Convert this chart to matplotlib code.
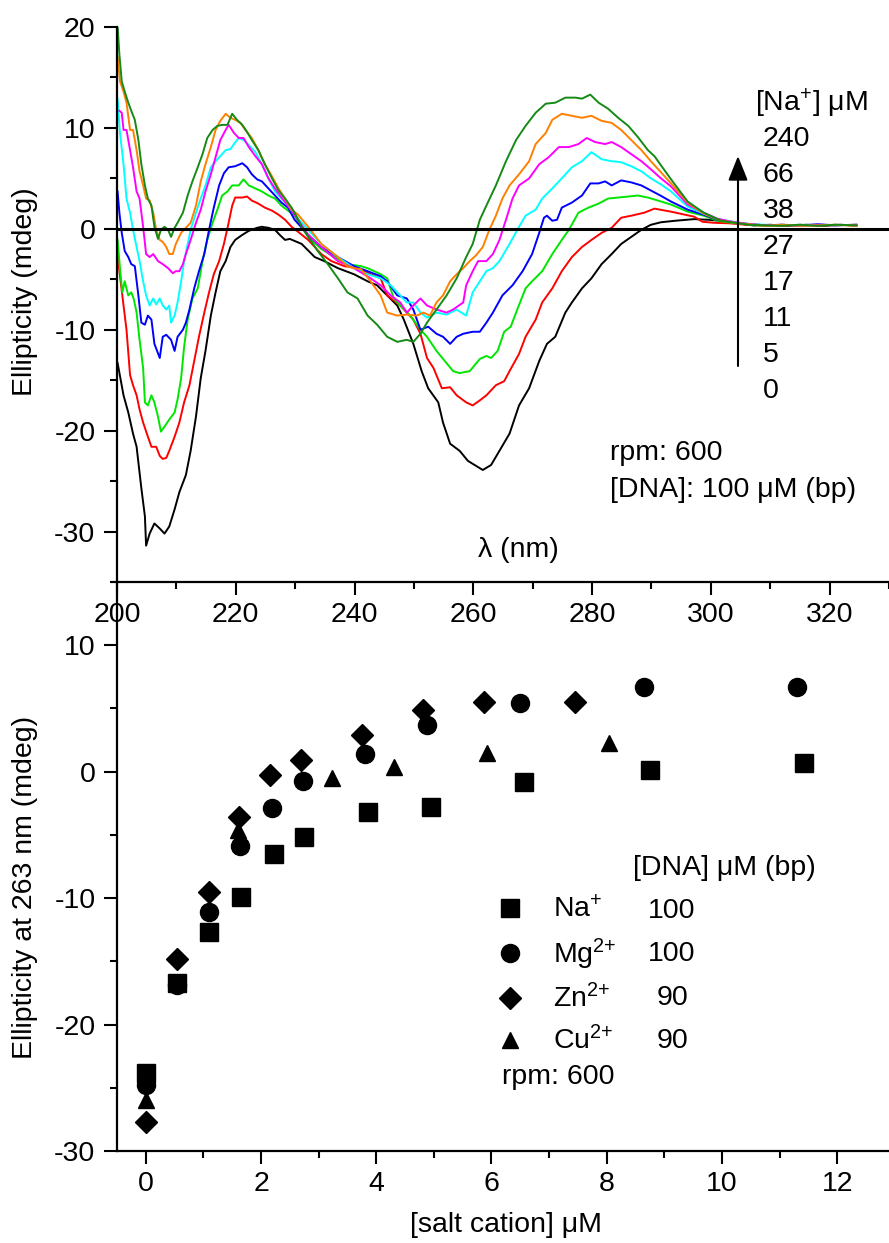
import matplotlib
matplotlib.use("Agg")
import matplotlib.pyplot as plt
from matplotlib.patches import FancyArrowPatch
import numpy as np

FS = 20.5
plt.rcParams['font.family'] = ['Liberation Sans', 'DejaVu Sans']
plt.rcParams['font.size'] = FS
plt.rcParams['axes.unicode_minus'] = False
plt.rcParams['mathtext.fontset'] = 'custom'
plt.rcParams['mathtext.rm'] = 'Liberation Sans'
plt.rcParams['mathtext.it'] = 'Liberation Sans:italic'
plt.rcParams['mathtext.bf'] = 'Liberation Sans:bold'

#%% CD spectra, (wavelength nm, ellipticity mdeg)
na_0 = [(200.1, -13.3), (201.1, -16.5), (201.9, -18.2), (202.7, -20.3), (203.3, -21.6), (204.1, -25.7),
        (204.7, -28.5), (204.9, -31.4), (205.5, -30.2), (206.3, -29.2), (207.2, -29.7), (208.0, -30.2),
        (208.8, -29.5), (209.7, -27.8), (210.5, -26.1), (211.6, -24.4), (212.4, -22.0), (213.3, -18.6),
        (214.1, -14.8), (214.9, -12.1), (215.8, -8.6), (216.6, -6.3), (217.4, -4.2), (218.3, -3.2),
        (219.1, -1.8), (219.9, -1.1), (221.1, -0.6), (222.2, -0.2), (223.6, 0.1), (224.4, 0.2),
        (225.5, 0.1), (226.6, -0.1), (227.4, -0.6), (228.3, -1.1), (229.1, -1.0), (231.1, -1.5),
        (233.3, -2.8), (234.9, -3.2), (237.2, -3.9), (239.9, -4.5), (242.2, -5.2), (243.8, -5.6),
        (245.5, -6.6), (247.2, -7.6), (248.3, -9.0), (249.9, -11.4), (251.3, -14.1), (252.4, -15.8),
        (254.1, -17.2), (254.9, -19.2), (256.1, -21.3), (257.7, -22.0), (259.1, -23.0), (261.6, -23.9),
        (263.0, -23.4), (264.4, -22.0), (266.1, -20.3), (267.7, -17.5), (269.4, -15.8), (271.1, -13.1),
        (272.4, -11.4), (273.8, -10.7), (275.5, -8.3), (276.6, -7.3), (278.3, -5.9), (279.9, -4.9),
        (281.6, -3.5), (283.3, -2.5), (284.9, -1.5), (286.6, -0.8), (288.3, -0.1), (289.9, 0.4),
        (291.6, 0.65), (294.0, 0.8), (297.2, 0.96), (299.5, 0.9), (301.5, 0.8), (303.3, 0.66),
        (305.0, 0.5), (307.2, 0.33), (310.0, 0.4), (313.0, 0.3), (316.0, 0.4), (319.0, 0.3),
        (322.0, 0.4), (324.5, 0.3)]
na_5 = [(200.1, -1.5), (200.2, -3.2), (201.1, -7.6), (201.6, -10.0), (202.2, -14.5), (202.7, -15.5),
        (203.3, -16.5), (203.8, -17.9), (204.4, -19.2), (205.2, -20.6), (205.8, -21.6), (206.6, -21.6),
        (207.2, -22.5), (207.7, -22.8), (208.3, -22.7), (208.8, -22.0), (209.7, -20.6), (210.5, -19.2),
        (211.3, -17.2), (212.2, -15.5), (213.0, -13.1), (213.8, -10.7), (214.7, -8.3), (215.5, -6.3),
        (216.3, -4.5), (217.2, -3.2), (218.0, -1.5), (218.8, 0.6), (219.4, 2.3), (219.9, 3.1),
        (221.1, 3.1), (221.9, 3.2), (222.7, 2.8), (223.8, 2.5), (224.9, 2.1), (226.1, 1.8),
        (227.2, 1.4), (228.3, 0.9), (229.4, 0.2), (230.5, -0.3), (232.2, -1.1), (234.4, -2.5),
        (236.1, -3.2), (238.3, -3.7), (240.5, -3.9), (242.7, -4.5), (244.4, -4.9), (245.5, -6.6),
        (247.7, -7.6), (249.9, -9.0), (251.1, -10.4), (252.2, -12.8), (253.3, -13.8), (254.7, -15.8),
        (256.1, -15.7), (257.2, -16.5), (258.8, -17.2), (259.9, -17.5), (261.1, -17.0), (262.2, -16.5),
        (263.8, -15.5), (265.2, -15.1), (266.1, -14.1), (267.7, -12.4), (268.8, -10.7), (270.5, -9.0),
        (271.6, -7.3), (273.3, -5.9), (274.9, -4.2), (276.6, -2.8), (278.3, -1.8), (279.9, -1.1),
        (281.6, -0.4), (283.3, 0.1), (284.9, 1.1), (286.6, 1.3), (288.8, 1.6), (290.5, 2.0),
        (293.3, 1.7), (297.2, 1.2), (298.6, 0.7), (300.5, 0.6), (303.0, 0.55), (306.0, 0.4),
        (309.0, 0.35), (312.0, 0.3), (315.0, 0.4), (318.0, 0.3), (321.0, 0.4), (324.5, 0.35)]
na_11 = [(200.1, -1.1), (200.5, -3.9), (200.9, -6.3), (201.3, -5.2), (201.9, -6.6), (202.4, -6.3),
         (202.8, -6.9), (203.3, -8.3), (203.8, -11.0), (204.4, -13.8), (204.7, -17.2), (205.2, -17.5),
         (205.8, -16.5), (206.3, -17.2), (206.9, -18.6), (207.4, -20.1), (208.0, -19.6), (208.8, -18.9),
         (209.7, -18.2), (210.2, -16.9), (210.8, -14.8), (211.3, -11.7), (211.9, -9.0), (212.7, -6.9),
         (213.6, -5.9), (214.4, -3.2), (215.2, -1.1), (216.1, 0.6), (216.9, 1.9), (217.7, 3.3),
         (218.6, 3.7), (219.4, 4.3), (220.5, 4.3), (221.3, 4.9), (222.2, 4.3), (223.3, 4.0),
         (224.4, 3.7), (225.5, 3.3), (226.6, 3.0), (227.7, 2.3), (228.8, 1.8), (229.9, 1.3),
         (231.1, 0.2), (232.2, -0.8), (234.4, -2.0), (236.6, -2.8), (238.8, -3.5), (241.1, -3.7),
         (242.2, -3.9), (244.4, -4.5), (245.5, -4.9), (246.6, -6.9), (247.7, -7.6), (249.4, -8.6),
         (251.1, -10.0), (252.2, -10.7), (253.8, -12.1), (255.2, -13.1), (256.6, -14.1), (257.7, -14.3),
         (259.4, -14.1), (261.1, -12.9), (262.2, -12.6), (263.0, -12.8), (264.1, -12.1), (265.2, -10.2),
         (266.3, -9.7), (267.4, -8.0), (268.8, -5.9), (269.9, -5.2), (271.6, -4.2), (273.3, -2.5),
         (274.9, -1.1), (276.1, -0.1), (277.7, 1.6), (279.4, 2.1), (281.1, 2.5), (282.7, 3.0),
         (284.4, 3.1), (286.1, 3.2), (287.7, 3.3), (289.4, 3.1), (291.1, 2.8), (293.3, 2.4),
         (296.1, 1.7), (298.8, 1.3), (301.1, 0.8), (303.5, 0.6), (306.0, 0.45), (309.0, 0.3),
         (312.0, 0.4), (315.0, 0.3), (318.0, 0.4), (321.0, 0.35), (324.5, 0.4)]
na_17 = [(200.1, 3.7), (200.4, 1.6), (200.8, -0.4), (201.3, -2.2), (201.9, -2.8), (202.4, -3.5),
         (203.0, -3.7), (203.6, -6.6), (204.1, -9.3), (204.7, -9.5), (205.2, -8.6), (205.8, -9.0),
         (206.3, -11.4), (207.2, -12.8), (207.7, -10.7), (208.3, -10.5), (209.1, -11.0), (209.7, -12.1),
         (210.2, -10.7), (211.1, -10.0), (211.6, -9.3), (212.2, -8.0), (213.0, -5.9), (213.8, -4.2),
         (214.7, -2.5), (215.5, -0.1), (216.3, 2.1), (217.2, 4.3), (218.0, 5.5), (218.8, 6.1),
         (219.9, 6.2), (221.1, 6.5), (221.9, 6.1), (222.7, 5.4), (223.6, 4.9), (224.4, 4.7),
         (225.5, 4.0), (226.6, 3.3), (227.7, 2.6), (228.8, 2.1), (229.9, 0.9), (232.2, -0.6),
         (234.4, -1.8), (237.2, -2.8), (239.9, -3.7), (242.2, -4.2), (244.4, -4.7), (245.5, -5.2),
         (247.2, -6.6), (248.8, -6.9), (249.9, -8.0), (251.1, -10.0), (252.4, -9.7), (253.8, -10.4),
         (254.9, -10.7), (256.1, -11.4), (257.2, -10.7), (258.3, -10.4), (259.9, -10.2), (261.1, -10.2),
         (262.2, -9.3), (263.3, -8.3), (264.9, -6.6), (266.6, -5.6), (268.3, -4.2), (269.9, -2.5),
         (271.1, -0.4), (271.9, 1.1), (272.4, 1.3), (273.3, 0.8), (274.1, 0.9), (274.9, 2.1),
         (276.6, 2.6), (278.3, 3.3), (279.7, 4.5), (281.1, 4.5), (282.2, 4.7), (283.3, 4.3),
         (284.9, 4.8), (286.6, 4.6), (288.3, 4.3), (289.9, 3.8), (291.5, 3.3), (293.3, 2.7),
         (296.1, 1.9), (298.8, 1.4), (301.1, 0.9), (303.5, 0.7), (306.0, 0.5), (309.0, 0.35),
         (312.0, 0.4), (315.0, 0.35), (318.0, 0.45), (321.0, 0.35), (324.5, 0.4)]
na_27 = [(200.1, 12.9), (200.5, 9.5), (201.1, 6.4), (201.6, 3.0), (202.2, 1.6), (202.7, -0.1),
         (203.3, -1.8), (203.8, -3.2), (204.4, -5.2), (204.9, -6.6), (205.5, -7.6), (206.1, -6.9),
         (206.6, -7.5), (207.2, -6.9), (207.7, -7.6), (208.3, -8.0), (208.8, -7.6), (209.1, -9.3),
         (209.7, -8.6), (210.2, -7.3), (210.8, -5.2), (211.3, -3.2), (211.9, -1.5), (212.4, -0.1),
         (213.3, 1.6), (214.1, 3.0), (214.9, 4.3), (215.8, 6.1), (216.6, 6.7), (217.4, 7.2),
         (218.3, 7.8), (219.1, 7.9), (219.7, 8.4), (220.5, 9.0), (221.3, 8.8), (222.2, 8.3),
         (223.3, 7.6), (224.4, 6.4), (225.5, 5.0), (226.6, 3.7), (227.7, 3.0), (228.8, 2.3),
         (229.9, 1.4), (232.2, -0.1), (234.4, -1.5), (237.2, -2.8), (239.9, -3.9), (242.2, -4.5),
         (244.4, -4.9), (246.1, -5.6), (247.2, -6.3), (248.8, -7.3), (249.9, -7.3), (251.1, -8.3),
         (252.2, -8.8), (253.8, -8.3), (255.5, -8.5), (257.2, -8.0), (258.8, -8.6), (259.9, -6.3),
         (261.1, -5.2), (262.2, -4.2), (263.3, -3.9), (264.4, -3.2), (266.1, -1.5), (267.7, 0.2),
         (268.8, 1.3), (270.5, 1.9), (271.6, 3.0), (273.3, 4.0), (274.9, 5.0), (276.6, 6.1),
         (278.3, 6.7), (279.9, 7.6), (281.6, 6.9), (283.3, 6.7), (284.9, 6.6), (286.6, 6.2),
         (288.3, 5.7), (289.9, 5.0), (291.6, 4.4), (293.3, 3.7), (296.1, 2.2), (298.8, 1.5),
         (301.1, 1.0), (303.5, 0.7), (306.0, 0.5), (309.0, 0.4), (312.0, 0.35), (315.0, 0.4),
         (318.0, 0.35), (321.0, 0.4), (324.5, 0.35)]
na_38 = [(200.4, 11.7), (200.8, 11.5), (201.1, 9.8), (201.6, 9.8), (202.2, 7.8), (202.7, 6.1),
         (203.3, 3.7), (203.8, 3.0), (204.4, 0.2), (204.9, -2.5), (205.5, -2.8), (206.1, -2.5),
         (206.9, -3.2), (207.7, -3.5), (208.6, -3.9), (209.4, -4.4), (209.9, -4.2), (210.5, -4.2),
         (211.1, -3.5), (211.6, -2.5), (212.4, -1.1), (213.3, 0.6), (214.1, 1.9), (214.9, 3.7),
         (215.8, 5.4), (216.6, 7.1), (217.4, 8.8), (218.3, 9.8), (218.8, 10.3), (219.7, 9.5),
         (220.5, 9.0), (221.3, 9.0), (222.2, 8.1), (223.3, 7.2), (224.4, 6.4), (225.5, 5.0),
         (226.6, 4.0), (227.7, 3.1), (228.8, 2.3), (229.9, 1.4), (232.2, -0.6), (234.4, -1.8),
         (237.2, -3.2), (239.9, -3.9), (242.7, -4.9), (244.4, -5.6), (246.1, -6.6), (247.7, -7.3),
         (248.8, -8.3), (249.9, -7.6), (251.1, -6.9), (252.2, -7.6), (253.8, -8.0), (255.5, -8.3),
         (256.6, -8.0), (258.3, -7.3), (258.8, -5.6), (259.9, -4.2), (260.8, -3.2), (262.2, -3.2),
         (263.3, -2.5), (264.4, -1.1), (265.5, 0.9), (266.6, 3.0), (267.7, 4.3), (269.4, 5.0),
         (271.1, 6.4), (272.7, 7.1), (274.4, 8.1), (276.1, 8.1), (277.7, 8.4), (279.1, 9.0),
         (280.5, 8.6), (282.2, 8.4), (283.3, 8.6), (284.9, 8.1), (286.6, 7.4), (288.3, 6.7),
         (289.9, 5.9), (291.6, 5.0), (293.3, 4.2), (296.1, 2.4), (298.8, 1.6), (301.1, 1.0),
         (303.5, 0.7), (306.0, 0.5), (309.0, 0.35), (312.0, 0.4), (315.0, 0.3), (318.0, 0.4),
         (321.0, 0.35), (324.5, 0.4)]
na_66 = [(200.1, 17.0), (200.5, 14.6), (201.1, 13.6), (201.6, 12.5), (202.2, 9.8), (202.7, 9.8),
         (203.3, 7.8), (203.8, 5.7), (204.4, 4.3), (204.9, 3.0), (205.5, 2.8), (206.1, 1.6),
         (206.6, -0.1), (207.2, -1.1), (207.7, -1.3), (208.3, -1.8), (208.8, -2.5), (209.4, -2.5),
         (209.9, -1.5), (210.8, -0.4), (211.6, 0.1), (212.4, 0.6), (213.3, 2.3), (214.1, 4.7),
         (214.9, 6.4), (215.8, 8.1), (216.6, 9.8), (217.4, 10.7), (218.3, 11.4), (219.1, 11.0),
         (219.9, 10.8), (220.8, 10.5), (221.6, 9.8), (222.7, 9.0), (223.8, 7.8), (224.9, 6.4),
         (226.1, 5.2), (227.2, 4.0), (228.3, 3.0), (229.4, 1.9), (230.5, 1.4), (232.2, 0.2),
         (234.4, -1.5), (237.2, -2.8), (238.8, -3.7), (239.9, -3.9), (241.1, -4.0), (242.7, -5.2),
         (244.4, -6.6), (245.5, -8.3), (247.2, -8.6), (248.8, -8.5), (250.5, -8.6), (251.6, -8.3),
         (252.7, -8.6), (253.8, -7.3), (254.9, -6.6), (256.1, -5.2), (257.2, -4.5), (258.3, -3.9),
         (259.4, -3.2), (260.5, -2.6), (261.6, -1.8), (262.7, -0.1), (263.8, 1.3), (264.9, 3.0),
         (266.1, 4.3), (267.7, 5.4), (269.4, 6.7), (270.5, 8.4), (272.2, 9.5), (273.3, 10.8),
         (274.9, 11.4), (276.6, 11.2), (278.3, 11.0), (279.9, 11.2), (281.6, 10.7), (283.3, 10.5),
         (284.9, 9.8), (286.6, 8.8), (288.3, 7.8), (289.9, 6.7), (291.6, 5.6), (293.3, 4.5),
         (296.1, 2.6), (298.8, 1.5), (301.7, 0.8), (304.0, 0.6), (306.5, 0.45), (309.0, 0.3),
         (312.0, 0.4), (315.0, 0.3), (318.0, 0.35), (321.0, 0.4), (324.5, 0.3)]
na_240 = [(200.1, 20.1), (200.4, 17.3), (200.8, 14.6), (201.3, 13.6), (201.9, 12.5), (202.4, 11.7),
          (203.0, 10.8), (203.6, 8.8), (204.1, 6.4), (204.7, 4.3), (205.2, 3.0), (205.8, 2.3),
          (206.3, 0.2), (206.9, -1.0), (207.4, -0.1), (208.0, 0.2), (208.6, -0.1), (209.1, -0.8),
          (209.7, 0.1), (210.2, 0.6), (211.1, 1.6), (211.9, 3.3), (212.7, 4.7), (213.6, 6.1),
          (214.4, 7.4), (215.2, 9.0), (216.1, 9.8), (216.9, 10.2), (217.7, 10.3), (218.6, 10.3),
          (219.4, 11.4), (220.2, 10.8), (221.1, 10.3), (221.9, 9.6), (222.7, 8.8), (223.8, 7.8),
          (224.9, 6.4), (226.1, 5.0), (227.2, 3.8), (228.3, 3.0), (229.4, 2.1), (229.9, 1.6),
          (231.1, 0.2), (232.2, -0.8), (233.8, -2.2), (235.5, -3.5), (237.2, -4.9), (238.8, -6.3),
          (240.5, -6.9), (242.2, -8.6), (243.8, -9.5), (245.5, -10.7), (247.2, -11.2), (248.8, -11.0),
          (249.9, -11.2), (251.1, -10.4), (252.2, -9.3), (253.8, -8.0), (255.5, -6.6), (257.2, -4.9),
          (258.8, -2.8), (259.9, -1.5), (261.1, 0.9), (262.2, 2.3), (263.8, 4.3), (265.5, 6.7),
          (267.2, 8.8), (268.8, 10.2), (270.5, 11.5), (272.2, 12.4), (273.8, 12.5), (275.5, 13.0),
          (277.2, 13.0), (278.3, 12.9), (279.7, 13.3), (281.1, 12.5), (282.7, 11.9), (284.4, 11.0),
          (286.1, 10.2), (287.7, 9.1), (289.4, 7.8), (290.5, 7.2), (293.3, 4.9), (296.1, 2.7),
          (298.8, 1.6), (301.7, 0.8), (304.0, 0.6), (306.5, 0.4), (309.0, 0.35), (312.0, 0.3),
          (315.0, 0.4), (318.0, 0.3), (321.0, 0.4), (324.5, 0.35)]

spectra = [na_0, na_5, na_11, na_17, na_27, na_38, na_66, na_240]
spec_colors = ['black', '#ff0000', '#00e600', '#0000ff', '#00ffff', '#ff00ff', '#ff8000', '#158a15']
na_conc = ['240', '66', '38', '27', '17', '11', '5', '0']

#%% ellipticity at 263 nm vs salt cation
na_x = [0, 0.55, 1.1, 1.65, 2.22, 2.75, 3.85, 4.95, 6.56, 8.75, 11.43]
na_y = [-23.8, -16.7, -12.7, -9.9, -6.5, -5.2, -3.2, -2.8, -0.8, 0.15, 0.7]
mg_x = [0, 0.55, 1.09, 1.63, 2.19, 2.73, 3.81, 4.88, 6.5, 8.65, 11.3]
mg_y = [-24.8, -16.9, -11.1, -5.9, -2.85, -0.7, 1.4, 3.7, 5.4, 6.7, 6.7]
zn_x = [0, 0.55, 1.09, 1.61, 2.15, 2.69, 3.75, 4.82, 5.87, 7.45]
zn_y = [-27.7, -14.8, -9.5, -3.6, -0.3, 0.9, 2.9, 4.9, 5.5, 5.5]
cu_x = [0, 1.6, 3.24, 4.31, 5.92, 8.04]
cu_y = [-26.0, -4.6, -0.5, 0.4, 1.5, 2.3]
ion_labels = ['Na$^{+}$', 'Mg$^{2{+}}$', 'Zn$^{2{+}}$', 'Cu$^{2{+}}$']
dna_conc = ['100', '100', '90', '90']

W, H = 889, 1243
def fx(px):
    return px / W
def fy(py):
    return 1 - py / H

fig = plt.figure(figsize=(W / 100, H / 100), dpi=100)
ax1 = fig.add_axes([fx(117), fy(582), fx(889 - 117), (582 - 27) / H])
ax2 = fig.add_axes([fx(117), fy(1151), fx(889 - 117), (1151 - 582) / H])
ax1.patch.set_visible(False)
ax2.patch.set_visible(False)

for ax in (ax1, ax2):
    for s in ('top', 'right'):
        ax.spines[s].set_visible(False)
    for s in ('left', 'bottom'):
        ax.spines[s].set_linewidth(1.6)
    ax.tick_params(which='both', direction='out', width=1.5, labelsize=FS)
    ax.tick_params(which='major', length=9.5)
    ax.tick_params(which='minor', length=5)
    ax.tick_params(axis='y', which='both', pad=6)
    ax.tick_params(axis='x', which='both', pad=5)

# top panel
for sp, c in zip(spectra, spec_colors):
    arr = np.array(sp)
    ax1.plot(arr[:, 0], arr[:, 1], color=c, lw=1.4)
ax1.axhline(0, color='black', lw=2.2, zorder=5)
ax1.set_xlim(200, 328.67)
ax1.set_ylim(-35, 20)
ax1.set_xticks(np.arange(200, 321, 20))
ax1.set_xticks(np.arange(210, 331, 20), minor=True)
ax1.set_yticks(np.arange(-30, 21, 10))
ax1.set_yticks(np.arange(-35, 20, 10), minor=True)

fig.text(fx(25), fy(292), 'Ellipticity (mdeg)', rotation=90, ha='center', va='center')
fig.text(fx(518), fy(550), 'λ (nm)', ha='center', va='center')
fig.text(fx(755), fy(103), '[Na$^{+}$] μM', ha='left', va='center')
for i, t in enumerate(na_conc):
    fig.text(fx(763), fy(139 + 36 * i), t, ha='left', va='center')
fig.add_artist(FancyArrowPatch((fx(738), fy(366)), (fx(738), fy(156)), transform=fig.transFigure,
                               arrowstyle='-|>,head_length=15,head_width=6', mutation_scale=1,
                               lw=1.5, color='black', shrinkA=0, shrinkB=0))
fig.text(fx(610), fy(453), 'rpm: 600', ha='left', va='center')
fig.text(fx(610), fy(490), '[DNA]: 100 μM (bp)', ha='left', va='center')

# bottom panel
h_na, = ax2.plot(na_x, na_y, 's', color='black', ms=13, ls='none')
h_mg, = ax2.plot(mg_x, mg_y, 'o', color='black', ms=13, ls='none')
h_zn, = ax2.plot(zn_x, zn_y, 'D', color='black', ms=11.5, ls='none')
h_cu, = ax2.plot(cu_x, cu_y, '^', color='black', ms=12, ls='none')
ax2.set_xlim(-0.5, 12.9)
ax2.set_ylim(-30, 15)
ax2.set_xticks(np.arange(0, 13, 2))
ax2.set_xticks(np.arange(1, 13, 2), minor=True)
ax2.set_yticks(np.arange(-30, 11, 10))
ax2.set_yticks(np.arange(-25, 16, 10), minor=True)

fig.text(fx(25), fy(887), 'Ellipticity at 263 nm (mdeg)', rotation=90, ha='center', va='center')
fig.text(fx(506), fy(1225), '[salt cation] μM', ha='center', va='center')

ax2.legend([h_na, h_mg, h_zn, h_cu], ion_labels, loc='center left',
           bbox_to_anchor=(fx(496), fy(976)), bbox_transform=fig.transFigure,
           frameon=False, handlelength=1.0, handletextpad=1.0, labelspacing=0.45,
           borderpad=0, borderaxespad=0, numpoints=1, fontsize=FS)
fig.text(fx(633), fy(868), '[DNA] μM (bp)', ha='left', va='center')
for i, t in enumerate(dna_conc):
    fig.text(fx(672), fy(911 + 43.3 * i), t, ha='center', va='center')
fig.text(fx(502), fy(1077), 'rpm: 600', ha='left', va='center')

fig.savefig('out.png', dpi=100)
